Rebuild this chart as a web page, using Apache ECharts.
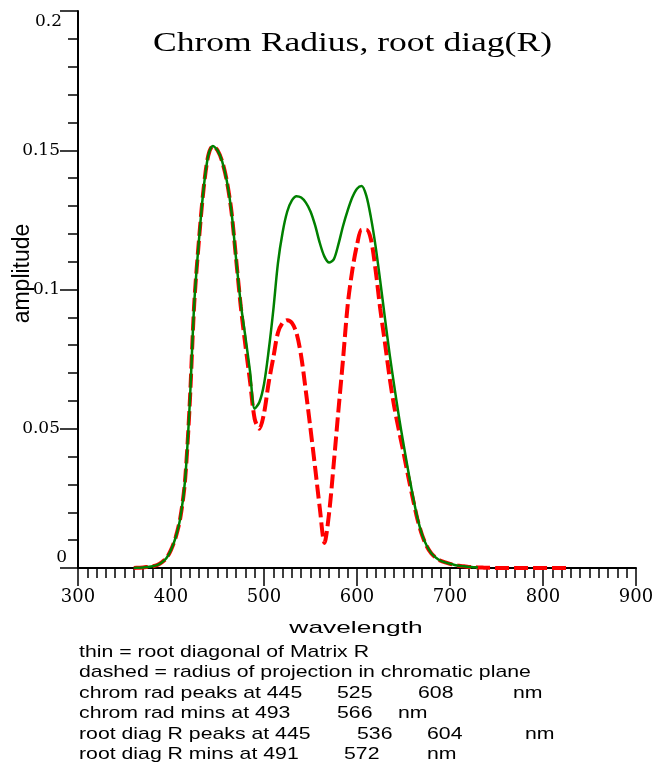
<!DOCTYPE html>
<html>
<head>
<meta charset="utf-8">
<script src="https://cdn.jsdelivr.net/npm/echarts@6/dist/echarts.min.js"></script>
<style>
html,body{margin:0;padding:0;background:#fff;}
#c{width:655px;height:766px;}
</style>
</head>
<body>
<div id="c"></div>
<script>
// ---- data ----
const titleText = 'Chrom Radius, root diag(R)';
const xName = 'wavelength';
const yName = 'amplitude';
const xTicks = [300, 400, 500, 600, 700, 800, 900];
const yTicks = [0, 0.05, 0.1, 0.15, 0.2];

// thin solid green: root diagonal of Matrix R (wavelength every 5 nm, 360..730)
const greenX = [360,365,370,375,380,385,390,395,400,405,410,415,420,425,430,435,440,445,450,455,460,465,470,475,480,485,490,495,500,505,510,515,520,525,530,535,540,545,550,555,560,565,570,575,580,585,590,595,600,605,610,615,620,625,630,635,640,645,650,655,660,665,670,675,680,685,690,695,700,705,710,715,720,725,730];
const greenY = [0,0.0001,0.0002,0.0004,0.0006,0.001,0.002,0.0035,0.0065,0.011,0.018,0.031,0.058,0.095,0.1175,0.136,0.148,0.1515,0.150,0.146,0.139,0.128,0.111,0.095,0.083,0.0705,0.0572,0.0595,0.066,0.078,0.0926,0.1095,0.1205,0.128,0.132,0.1335,0.133,0.1312,0.128,0.123,0.1167,0.1118,0.1097,0.1108,0.1162,0.1228,0.1284,0.1331,0.1362,0.1372,0.1337,0.1258,0.1155,0.103,0.0898,0.077,0.0655,0.0545,0.0445,0.035,0.026,0.018,0.012,0.008,0.0053,0.0037,0.0026,0.002,0.0015,0.0011,0.0008,0.0006,0.0004,0.0003,0.0002];

// dashed red: radius of projection in chromatic plane (every 5 nm, 360..830)
const redX = [360,365,370,375,380,385,390,395,400,405,410,415,420,425,430,435,440,445,450,455,460,465,470,475,480,485,490,495,500,505,510,515,520,525,530,535,540,545,550,555,560,565,570,575,580,585,590,595,600,605,610,615,620,625,630,635,640,645,650,655,660,665,670,675,680,685,690,695,700,705,710,715,720,725,730,735,740,745,750,755,760,765,770,775,780,785,790,795,800,805,810,815,820,825,830];
const redY = [0,0.0001,0.0002,0.0004,0.0006,0.001,0.002,0.0035,0.0065,0.011,0.018,0.031,0.058,0.095,0.1175,0.136,0.148,0.1515,0.150,0.146,0.139,0.128,0.111,0.094,0.080,0.067,0.0535,0.050,0.0555,0.0665,0.0755,0.0845,0.088,0.089,0.088,0.0843,0.076,0.0635,0.050,0.036,0.0215,0.009,0.0197,0.0375,0.0565,0.075,0.0945,0.107,0.116,0.1215,0.1215,0.118,0.107,0.093,0.081,0.0685,0.058,0.0495,0.0415,0.033,0.025,0.0175,0.0118,0.0078,0.0052,0.0036,0.0026,0.002,0.0015,0.0011,0.0008,0.0006,0.0004,0.0003,0.0002,0.00015,0.0001,0.0001,0,0,0,0,0,0,0,0,0,0,0,0,0,0,0,0,0];

const noteLines = [
  ['thin = root diagonal of Matrix R'],
  ['dashed = radius of projection in chromatic plane'],
  ['chrom rad peaks at 445', '525', '608', 'nm'],
  ['chrom rad mins at 493', '566', 'nm'],
  ['root diag R peaks at 445', '536', '604', 'nm'],
  ['root diag R mins at 491', '572', 'nm']
];
// ---- layout ----
const noteX = [[79],[79],[79,337,418,513],[79,337,398],[79,357,427,525],[79,344,427]];
const noteScale = 1.25;

const chart = echarts.init(document.getElementById('c'), null, {renderer: 'canvas'});

const graphics = [];
graphics.push({
  type: 'text', x: 153, y: 30, scaleX: 1.317,
  style: {text: titleText, font: '27px "Liberation Serif"', fill: '#000', textAlign: 'left', textVerticalAlign: 'alphabetic'}
});
graphics.push({
  type: 'text', x: 356, y: 620, scaleX: 1.55,
  style: {text: xName, font: '17px "Liberation Sans"', fill: '#000', textAlign: 'center', textVerticalAlign: 'alphabetic'}
});
noteLines.forEach((line, i) => {
  line.forEach((tok, j) => {
    graphics.push({
      type: 'text', x: noteX[i][j], y: 643.5 + i * 20.5, scaleX: noteScale,
      style: {text: tok, font: '17px "Liberation Sans"', fill: '#000', textAlign: 'left', textVerticalAlign: 'alphabetic'}
    });
  });
});

const lblFont = {fontFamily: 'DejaVu Serif', fontSize: 17, color: '#000'};

chart.setOption({
  animation: false,
  backgroundColor: '#fff',
  grid: {left: 78, top: 11, right: 19, bottom: 198, containLabel: false, outerBoundsMode: 'none'},
  xAxis: {
    type: 'value', min: xTicks[0], max: xTicks[xTicks.length - 1], interval: 100,
    axisLine: {show: true, lineStyle: {color: '#000', width: 2}},
    axisTick: {show: true, inside: false, length: 18, lineStyle: {color: '#000', width: 1.5}},
    minorTick: {show: true, splitNumber: 10, length: 10, lineStyle: {color: '#000', width: 1.5}},
    splitLine: {show: false},
    minorSplitLine: {show: false},
    axisLabel: {margin: 20, fontFamily: 'DejaVu Serif', fontSize: 18, color: '#000'}
  },
  yAxis: {
    type: 'value', min: yTicks[0], max: yTicks[yTicks.length - 1], interval: 0.05,
    name: yName, nameLocation: 'middle', nameRotate: 90, nameGap: 44, nameMoveOverlap: false,
    nameTextStyle: {fontFamily: 'Liberation Sans', fontSize: 23, color: '#000', padding: [0, 0, 0, 32]},
    axisLine: {show: true, lineStyle: {color: '#000', width: 2}},
    axisTick: {show: true, inside: false, length: 18, lineStyle: {color: '#000', width: 1.5}},
    minorTick: {show: true, splitNumber: 5, length: 10, lineStyle: {color: '#000', width: 1.5}},
    splitLine: {show: false},
    minorSplitLine: {show: false},
    axisLabel: {
      margin: 11,
      formatter: function (v) {
        const s = String(+v.toFixed(4));
        if (v === 0) return '{z|' + s + '}';
        if (Math.abs(v - 0.2) < 1e-9) return '{t|' + s + '}';
        return '{n|' + s + '}';
      },
      rich: {
        n: Object.assign({padding: [0, 7, 0, 0]}, lblFont),
        t: Object.assign({padding: [22, 5, 0, 0]}, lblFont),
        z: Object.assign({padding: [0, 0, 20, 0]}, lblFont)
      }
    }
  },
  series: [
    {
      name: 'chrom rad', type: 'line', showSymbol: false, symbol: 'none', smooth: 0.3,
      data: redX.map((x, i) => [x, redY[i]]),
      lineStyle: {color: '#ff0000', width: 4, type: [14, 5]},
      z: 2
    },
    {
      name: 'root diag R', type: 'line', showSymbol: false, symbol: 'none', smooth: 0.3,
      data: greenX.map((x, i) => [x, greenY[i]]),
      lineStyle: {color: '#008000', width: 2.5, type: 'solid'},
      z: 3
    }
  ],
  graphic: graphics
});
</script>
</body>
</html>
